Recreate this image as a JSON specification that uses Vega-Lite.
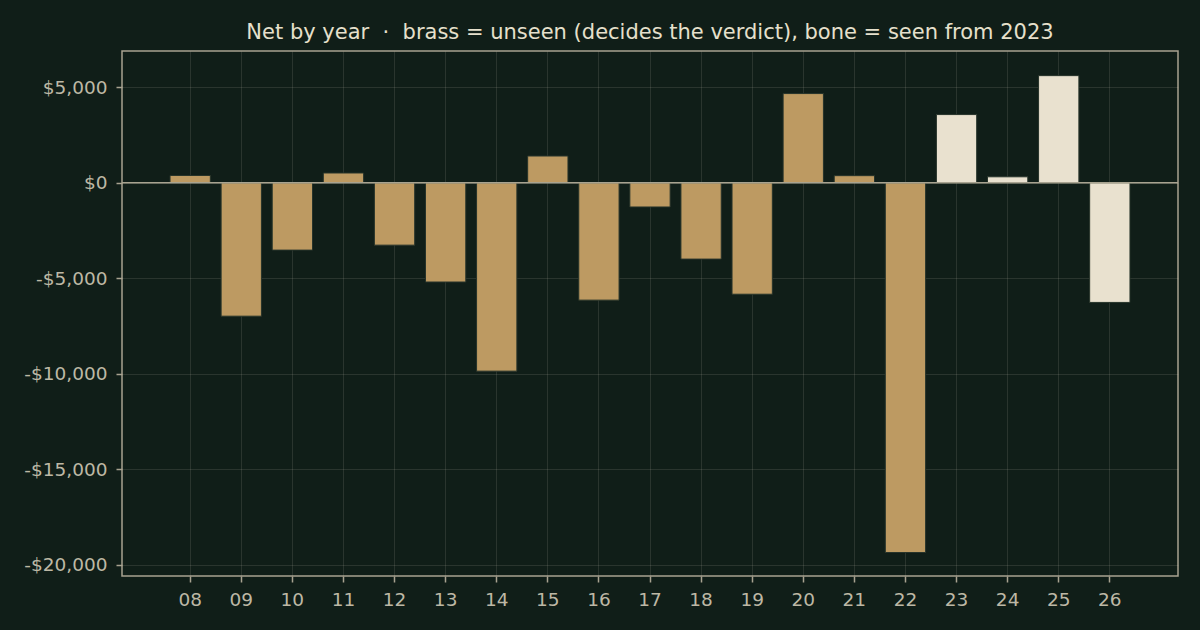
{
  "$schema": "https://vega.github.io/schema/vega-lite/v6.json",
  "width": 1056,
  "height": 525,
  "autosize": "none",
  "padding": {"left": 122, "top": 51, "right": 22, "bottom": 54},
  "background": "#101e18",
  "config": {
    "font": "DejaVu Sans",
    "view": {"stroke": "#a8a390", "strokeWidth": 1.5},
    "axis": {
      "domainColor": "#a8a390",
      "domainWidth": 1.5,
      "tickColor": "#a8a390",
      "tickWidth": 1.5,
      "tickSize": 6,
      "labelColor": "#bdb8a5",
      "labelFontSize": 18.5,
      "labelFont": "DejaVu Sans",
      "gridColor": "#e8e1cf",
      "gridOpacity": 0.12,
      "gridWidth": 1,
      "zindex": 1
    }
  },
  "title": {
    "text": "Net by year \u00a0·\u00a0 brass = unseen (decides the verdict), bone = seen from 2023",
    "color": "#e6e0cc",
    "fontSize": 21,
    "fontWeight": "normal",
    "font": "DejaVu Sans",
    "anchor": "middle",
    "offset": 8
  },
  "data": {
    "values": [
      {"year": "08", "net": 380, "group": "unseen"},
      {"year": "09", "net": -6990, "group": "unseen"},
      {"year": "10", "net": -3530, "group": "unseen"},
      {"year": "11", "net": 510, "group": "unseen"},
      {"year": "12", "net": -3270, "group": "unseen"},
      {"year": "13", "net": -5200, "group": "unseen"},
      {"year": "14", "net": -9870, "group": "unseen"},
      {"year": "15", "net": 1400, "group": "unseen"},
      {"year": "16", "net": -6150, "group": "unseen"},
      {"year": "17", "net": -1270, "group": "unseen"},
      {"year": "18", "net": -4000, "group": "unseen"},
      {"year": "19", "net": -5840, "group": "unseen"},
      {"year": "20", "net": 4670, "group": "unseen"},
      {"year": "21", "net": 370, "group": "unseen"},
      {"year": "22", "net": -19370, "group": "unseen"},
      {"year": "23", "net": 3570, "group": "seen"},
      {"year": "24", "net": 310, "group": "seen"},
      {"year": "25", "net": 5610, "group": "seen"},
      {"year": "26", "net": -6270, "group": "seen"}
    ]
  },
  "layer": [
    {
      "mark": {"type": "bar", "stroke": "#26332a", "strokeWidth": 1},
      "encoding": {
        "x": {
          "field": "year",
          "type": "ordinal",
          "sort": null,
          "title": null,
          "scale": {"paddingInner": 0.211, "paddingOuter": 0.94},
          "axis": {"labelAngle": 0, "grid": true, "labelPadding": 8, "domain": false}
        },
        "y": {
          "field": "net",
          "type": "quantitative",
          "title": null,
          "scale": {"domain": [-20600, 6900], "nice": false, "zero": false},
          "axis": {
            "values": [-20000, -15000, -10000, -5000, 0, 5000],
            "labelExpr": "(datum.value < 0 ? '-' : '') + '$' + format(abs(datum.value), ',')",
            "labelPadding": 9,
            "domain": false
          }
        },
        "color": {
          "field": "group",
          "type": "nominal",
          "scale": {"domain": ["unseen", "seen"], "range": ["#bd9a62", "#e9e1cf"]},
          "legend": null
        }
      }
    },
    {
      "data": {"values": [{"y": 0}]},
      "mark": {"type": "rule", "color": "#a8a390", "strokeWidth": 1.5},
      "encoding": {"y": {"field": "y", "type": "quantitative"}}
    }
  ]
}
